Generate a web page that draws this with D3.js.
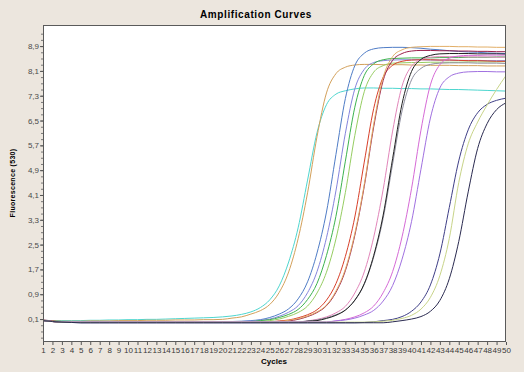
<!DOCTYPE html>
<html>
<head>
<meta charset="utf-8">
<script src="https://cdn.jsdelivr.net/npm/d3@7"></script>
<style>
  body { margin: 0; background: #ECE6DE; }
  svg { display: block; font-family: "Liberation Sans", Arial, sans-serif; }
</style>
</head>
<body>
<div id="canvas"></div>
<script>
// Ciclos (eje x)
const cycles = [1,2,3,4,5,6,7,8,9,10,11,12,13,14,15,16,17,18,19,20,21,22,23,24,25,
  26,27,28,29,30,31,32,33,34,35,36,37,38,39,40,41,42,43,44,45,46,47,48,49,50];

// Etiquetas del eje y
const yTicks = [0.1, 0.9, 1.7, 2.5, 3.3, 4.1, 4.9, 5.7, 6.5, 7.3, 8.1, 8.9];

// Fluorescencia de cada muestra, un valor por ciclo
const cyan = [0.06,0.05,0.05,0.05,0.05,0.06,0.06,0.07,0.07,0.08,0.08,0.09,0.09,0.10,0.11,0.12,0.13,0.14,0.15,0.17,
  0.20,0.25,0.33,0.47,0.72,1.17,1.94,3.04,4.58,6.11,7.01,7.35,7.46,7.52,7.55,7.55,7.54,7.54,7.53,7.53,
  7.52,7.52,7.51,7.50,7.50,7.49,7.48,7.47,7.46,7.45];
const tanEarly = [0.06,0.04,0.03,0.03,0.03,0.04,0.04,0.04,0.05,0.05,0.05,0.06,0.06,0.06,0.07,0.07,0.07,0.08,0.08,0.09,
  0.13,0.17,0.26,0.37,0.57,0.96,1.62,2.69,4.17,5.98,7.39,8.01,8.22,8.29,8.31,8.31,8.30,8.30,8.30,8.29,
  8.29,8.28,8.28,8.28,8.27,8.27,8.27,8.26,8.26,8.26];
const blue = [0.05,0.03,0.02,0.02,0.02,0.02,0.02,0.02,0.02,0.02,0.02,0.02,0.02,0.02,0.02,0.02,0.02,0.02,0.02,0.02,
  0.02,0.03,0.05,0.08,0.15,0.26,0.43,0.75,1.30,2.23,3.55,5.40,7.21,8.27,8.67,8.81,8.85,8.86,8.86,8.85,
  8.83,8.80,8.78,8.75,8.73,8.71,8.70,8.68,8.67,8.66];
const slate = [0.05,0.03,0.02,0.02,0.02,0.02,0.02,0.02,0.02,0.02,0.02,0.02,0.02,0.02,0.02,0.02,0.02,0.02,0.02,0.02,
  0.02,0.02,0.03,0.06,0.10,0.19,0.32,0.53,0.95,1.63,2.72,4.23,6.09,7.52,8.15,8.37,8.43,8.45,8.46,8.46,
  8.46,8.45,8.45,8.45,8.44,8.44,8.44,8.43,8.43,8.43];
const green = [0.05,0.03,0.02,0.02,0.02,0.02,0.02,0.02,0.02,0.02,0.02,0.02,0.02,0.02,0.02,0.02,0.02,0.02,0.02,0.02,
  0.02,0.02,0.02,0.05,0.08,0.15,0.25,0.41,0.73,1.25,2.15,3.41,5.19,6.93,7.95,8.33,8.46,8.50,8.51,8.52,
  8.52,8.52,8.53,8.53,8.53,8.54,8.54,8.54,8.55,8.55];
const lightGreen = [0.05,0.03,0.02,0.02,0.02,0.02,0.02,0.02,0.02,0.02,0.02,0.02,0.02,0.02,0.02,0.02,0.02,0.02,0.02,0.02,
  0.02,0.02,0.02,0.02,0.05,0.10,0.19,0.31,0.52,0.94,1.61,2.68,4.18,6.02,7.43,8.06,8.27,8.35,8.36,8.37,
  8.37,8.38,8.38,8.38,8.38,8.39,8.39,8.39,8.39,8.40];
const red = [0.05,0.02,0.01,0.01,0.01,0.01,0.01,0.01,0.01,0.01,0.01,0.01,0.01,0.01,0.01,0.01,0.01,0.01,0.01,0.01,
  0.01,0.01,0.01,0.01,0.01,0.04,0.07,0.14,0.24,0.40,0.71,1.24,2.12,3.39,5.16,6.89,7.90,8.28,8.41,8.45,
  8.46,8.46,8.45,8.45,8.44,8.43,8.43,8.42,8.41,8.41];
const maroon = [0.07,0.04,0.00,0.00,0.00,0.00,0.00,0.00,0.00,0.00,0.00,0.00,0.00,0.00,0.00,0.00,0.00,0.00,0.00,0.00,
  0.00,0.00,0.00,0.00,0.00,0.00,0.04,0.09,0.18,0.31,0.53,0.96,1.66,2.80,4.38,6.30,7.79,8.44,8.66,8.74,
  8.76,8.76,8.75,8.75,8.74,8.74,8.73,8.73,8.72,8.72];
const tanLate = [0.05,0.03,0.02,0.02,0.02,0.02,0.02,0.02,0.02,0.02,0.02,0.02,0.02,0.02,0.02,0.02,0.02,0.02,0.02,0.02,
  0.02,0.02,0.02,0.02,0.02,0.02,0.06,0.11,0.20,0.33,0.55,1.00,1.71,2.86,4.44,6.39,7.89,8.56,8.78,8.86,
  8.88,8.89,8.89,8.89,8.88,8.88,8.87,8.87,8.86,8.86];
const pink = [0.05,0.02,0.00,0.00,0.00,0.00,0.00,0.00,0.00,0.00,0.00,0.00,0.00,0.00,0.00,0.00,0.00,0.00,0.00,0.00,
  0.00,0.00,0.00,0.00,0.00,0.00,0.00,0.00,0.04,0.09,0.17,0.30,0.51,0.94,1.62,2.74,4.28,6.16,7.61,8.25,
  8.46,8.54,8.56,8.56,8.56,8.55,8.55,8.55,8.54,8.54];
const grey = [0.05,0.02,0.01,0.01,0.01,0.01,0.01,0.01,0.01,0.01,0.01,0.01,0.01,0.01,0.01,0.01,0.01,0.01,0.01,0.01,
  0.01,0.01,0.01,0.01,0.01,0.01,0.01,0.01,0.04,0.07,0.14,0.24,0.39,0.70,1.22,2.10,3.35,5.10,6.81,7.81,
  8.18,8.31,8.35,8.36,8.36,8.36,8.35,8.35,8.35,8.34];
const black = [0.06,0.02,-0.01,-0.01,-0.01,-0.01,-0.01,-0.01,-0.01,-0.01,-0.01,-0.01,-0.01,-0.01,-0.01,-0.01,-0.01,-0.01,-0.01,-0.01,
  -0.01,-0.01,-0.01,-0.01,-0.01,-0.01,-0.01,-0.01,0.03,0.05,0.12,0.22,0.39,0.71,1.24,2.15,3.45,5.27,7.04,8.08,
  8.47,8.60,8.65,8.66,8.66,8.66,8.65,8.65,8.65,8.64];
const magenta = [0.05,0.02,0.00,0.00,0.00,0.00,0.00,0.00,0.00,0.00,0.00,0.00,0.00,0.00,0.00,0.00,0.00,0.00,0.00,0.00,
  0.00,0.00,0.00,0.00,0.00,0.00,0.00,0.00,0.00,0.00,0.00,0.04,0.09,0.17,0.30,0.52,0.95,1.63,2.75,4.30,
  6.19,7.65,8.30,8.51,8.58,8.60,8.60,8.61,8.61,8.61];
const purple = [0.05,0.02,0.01,0.01,0.01,0.01,0.01,0.01,0.01,0.01,0.01,0.01,0.01,0.01,0.01,0.01,0.01,0.01,0.01,0.01,
  0.01,0.01,0.01,0.01,0.01,0.01,0.01,0.01,0.01,0.01,0.01,0.04,0.07,0.13,0.23,0.38,0.68,1.18,2.03,3.24,
  4.93,6.58,7.55,7.91,8.03,8.07,8.08,8.08,8.07,8.07];
const navy = [0.05,0.02,0.00,-0.01,-0.02,-0.02,-0.02,-0.02,-0.02,-0.02,-0.02,-0.02,-0.02,-0.02,-0.02,-0.02,-0.02,-0.02,-0.02,-0.02,
  -0.02,-0.02,-0.02,-0.02,-0.02,-0.02,-0.02,-0.02,-0.02,-0.02,-0.02,-0.02,-0.02,-0.02,-0.01,0.01,0.05,0.09,0.18,0.35,
  0.65,1.20,2.20,3.70,5.20,6.20,6.75,7.02,7.15,7.22];
const yellowGreen = [0.05,0.02,0.00,0.00,0.00,0.00,0.00,0.00,0.00,0.00,0.00,0.00,0.00,0.00,0.00,0.00,0.00,0.00,0.00,0.00,
  0.00,0.00,0.00,0.00,0.00,0.00,0.00,0.00,0.00,0.00,0.00,0.00,0.00,0.00,0.00,0.01,0.03,0.06,0.12,0.22,
  0.42,0.80,1.50,2.70,4.50,5.75,6.45,7.00,7.50,7.95];
const darkNavy = [0.05,0.02,0.00,-0.01,-0.02,-0.02,-0.02,-0.02,-0.02,-0.02,-0.02,-0.02,-0.02,-0.02,-0.02,-0.02,-0.02,-0.02,-0.02,-0.02,
  -0.02,-0.02,-0.02,-0.02,-0.02,-0.02,-0.02,-0.02,-0.02,-0.02,-0.02,-0.02,-0.02,-0.02,-0.02,-0.02,-0.02,0.01,0.05,0.10,
  0.18,0.35,0.70,1.40,2.60,4.20,5.60,6.40,6.85,7.07];

const series = [cyan, tanEarly, blue, slate, green, lightGreen, red, maroon, tanLate,
  pink, grey, black, magenta, purple, navy, yellowGreen, darkNavy];
const colors = ["#4ED6CF", "#D3A05A", "#4F7CC6", "#8484DC", "#3DB34E", "#96CD62", "#D8402A", "#9A1E4A", "#E2AE66",
  "#E286BA", "#8E8E9E", "#202020", "#D66AD6", "#A070E0", "#3E3E86", "#C8D488", "#2A2A50"];

// Caracteristicas del canvas
const width = 524;
const height = 372;
const plot = {left: 43, right: 506, top: 25, bottom: 342};

const svg = d3.select("#canvas").append("svg")
  .attr("width", width)
  .attr("height", height);

const x = d3.scaleLinear().domain([1, 50]).range([plot.left, plot.right]);
const y = d3.scaleLinear().domain([-0.64, 9.58]).range([plot.bottom, plot.top]);

// Area de la grafica
svg.append("rect")
  .attr("x", plot.left).attr("y", plot.top)
  .attr("width", plot.right - plot.left).attr("height", plot.bottom - plot.top)
  .attr("fill", "#fff");

svg.append("clipPath").attr("id", "clip")
  .append("rect")
  .attr("x", plot.left).attr("y", plot.top)
  .attr("width", plot.right - plot.left).attr("height", plot.bottom - plot.top);

// Curvas
const line = d3.line()
  .x((d, i) => x(cycles[i]))
  .y(d => y(d))
  .curve(d3.curveMonotoneX);

svg.append("g").attr("clip-path", "url(#clip)")
  .selectAll("path").data(series)
  .enter().append("path")
  .attr("d", line)
  .attr("fill", "none")
  .attr("stroke", (d, i) => colors[i])
  .attr("stroke-width", 1);

// Borde
svg.append("rect")
  .attr("x", plot.left + 0.5).attr("y", plot.top + 0.5)
  .attr("width", plot.right - plot.left - 1).attr("height", plot.bottom - plot.top - 1)
  .attr("fill", "none")
  .attr("stroke", "#5a5a5a");

const comma = d3.formatLocale({decimal: ",", thousands: ".", grouping: [3], currency: ["", ""]}).format(".1f");

// Eje x
const xAxis = svg.append("g")
  .attr("transform", `translate(0, ${plot.bottom})`)
  .call(d3.axisBottom(x).tickValues(cycles).tickSize(3).tickPadding(2).tickFormat(d3.format("d")));
xAxis.select(".domain").remove();
xAxis.selectAll("line").attr("stroke", "#555");
xAxis.selectAll("text").attr("fill", "#3a3a3a").style("font-size", "8px");

// Eje y con marcas menores
const minor = svg.append("g")
  .attr("transform", `translate(${plot.left}, 0)`)
  .call(d3.axisLeft(y).tickValues(d3.range(-0.5, 9.5, 0.2)).tickSize(2).tickFormat(""));
minor.select(".domain").remove();
minor.selectAll("line").attr("stroke", "#777");

const yAxis = svg.append("g")
  .attr("transform", `translate(${plot.left}, 0)`)
  .call(d3.axisLeft(y).tickValues(yTicks).tickSize(3).tickPadding(1).tickFormat(comma));
yAxis.select(".domain").remove();
yAxis.selectAll("line").attr("stroke", "#555");
yAxis.selectAll("text").attr("fill", "#4a4a4a").style("font-size", "8px");

// Titulos
svg.append("text")
  .attr("x", 256).attr("y", 18)
  .attr("text-anchor", "middle")
  .style("font-size", "10px").style("font-weight", "bold").style("letter-spacing", "0.6px")
  .text("Amplification Curves");

svg.append("text")
  .attr("transform", "translate(15, 183) rotate(-90)")
  .attr("text-anchor", "middle")
  .style("font-size", "7px").style("font-weight", "bold").style("letter-spacing", "0.3px")
  .text("Fluorescence (530)");

svg.append("text")
  .attr("x", 274).attr("y", 364)
  .attr("text-anchor", "middle")
  .style("font-size", "8px").style("font-weight", "bold")
  .text("Cycles");
</script>
</body>
</html>
